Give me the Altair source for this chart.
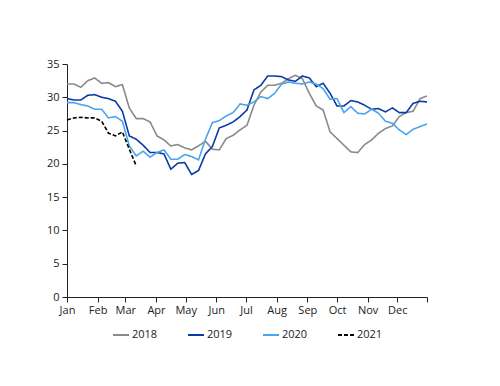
import altair as alt
import pandas as pd

years = ["2018", "2019", "2020", "2021"]
colors = ["#8a8a8a", "#0a3aa8", "#4aa5ea", "#000000"]
dashes = [[1, 0], [1, 0], [1, 0], [4, 2]]

# weekly observations (week 0 = 1 Jan)
v2018 = [32.0, 32.0, 31.5, 32.5, 32.9, 32.1, 32.2, 31.6, 31.9, 28.4, 26.8, 26.8, 26.3,
         24.2, 23.6, 22.7, 22.9, 22.4, 22.1, 22.7, 23.4, 22.2, 22.1, 23.8, 24.3, 25.1,
         25.8, 28.8, 30.8, 31.8, 31.8, 32.1, 32.8, 33.3, 32.8, 30.6, 28.7, 28.1, 24.8,
         23.8, 22.8, 21.8, 21.7, 22.9, 23.6, 24.6, 25.3, 25.7, 27.1, 27.7, 27.9, 29.8, 30.2]
v2019 = [29.8, 29.6, 29.6, 30.3, 30.4, 30.0, 29.8, 29.4, 27.9, 24.2, 23.7, 22.8, 21.7,
         21.7, 21.5, 19.2, 20.1, 20.2, 18.4, 19.0, 21.5, 22.6, 25.4, 25.8, 26.3, 27.1,
         28.1, 31.1, 31.8, 33.2, 33.2, 33.1, 32.6, 32.4, 33.2, 32.9, 31.6, 32.1, 30.6,
         28.7, 28.7, 29.5, 29.3, 28.8, 28.2, 28.3, 27.8, 28.4, 27.7, 27.7, 29.1, 29.4, 29.3]
v2020 = [29.2, 29.2, 28.9, 28.7, 28.2, 28.2, 26.9, 27.1, 26.4, 22.7, 21.2, 21.9, 21.0,
         21.7, 22.1, 20.7, 20.7, 21.4, 21.1, 20.6, 23.7, 26.2, 26.5, 27.2, 27.7, 29.0,
         28.8, 29.3, 30.1, 29.8, 30.6, 32.0, 32.3, 32.1, 32.0, 32.3, 32.0, 31.3, 29.7,
         29.8, 27.7, 28.6, 27.6, 27.5, 28.2, 27.6, 26.4, 26.1, 25.1, 24.4, 25.2, 25.6, 26.0]
v2021 = [26.6, 26.9, 27.0, 26.9, 26.9, 26.4, 24.6, 24.2, 24.8, 22.2, 19.7]

month_labels = ["Jan", "Feb", "Mar", "Apr", "May", "Jun", "Jul", "Aug", "Sep", "Oct", "Nov", "Dec", ""]
month_days = [0, 31, 59, 90, 120, 151, 181, 212, 243, 273, 304, 334, 364]

rows = []
for yr, vals in zip(years, [v2018, v2019, v2020, v2021]):
    for i, v in enumerate(vals):
        rows.append({"year": yr, "day": 7 * i, "value": v})
df = pd.DataFrame(rows)

label_expr = "{" + ",".join(f"'{d}':'{m}'" for d, m in zip(month_days, month_labels)) + "}[datum.value]"

font = "Open Sans"

chart = alt.Chart(df).mark_line(strokeWidth=1.6).encode(
    x=alt.X("day:Q",
            scale=alt.Scale(domain=[0, 364], nice=False, zero=False),
            axis=alt.Axis(values=month_days, labelExpr=label_expr, title=None, grid=False,
                          tickSize=5, labelFontSize=11, labelFont=font, labelColor="#222",
                          domainColor="#222", tickColor="#222", labelPadding=2,
                          labelFlush=False, labelOverlap=False)),
    y=alt.Y("value:Q",
            scale=alt.Scale(domain=[0, 35], nice=False),
            axis=alt.Axis(values=[0, 5, 10, 15, 20, 25, 30, 35], title=None, grid=False,
                          tickSize=5, labelFontSize=11, labelFont=font, labelColor="#222",
                          domainColor="#222", tickColor="#222", labelPadding=3)),
    color=alt.Color("year:N", scale=alt.Scale(domain=years, range=colors),
                    legend=alt.Legend(title=None, orient="none", direction="horizontal",
                                      legendX=45, legendY=262, symbolType="stroke",
                                      symbolSize=256, symbolStrokeWidth=1.8, labelFontSize=11,
                                      labelFont=font, labelColor="#222", columnPadding=26,
                                      labelOffset=2)),
    strokeDash=alt.StrokeDash("year:N", scale=alt.Scale(domain=years, range=dashes), legend=None),
).properties(
    width=360, height=233,
    autosize=alt.AutoSizeParams(type="none"),
    padding={"left": 59, "top": 56, "right": 65, "bottom": 79},
).configure_view(stroke=None)

chart.save("out.html", embed_options={"renderer": "svg", "actions": False})
